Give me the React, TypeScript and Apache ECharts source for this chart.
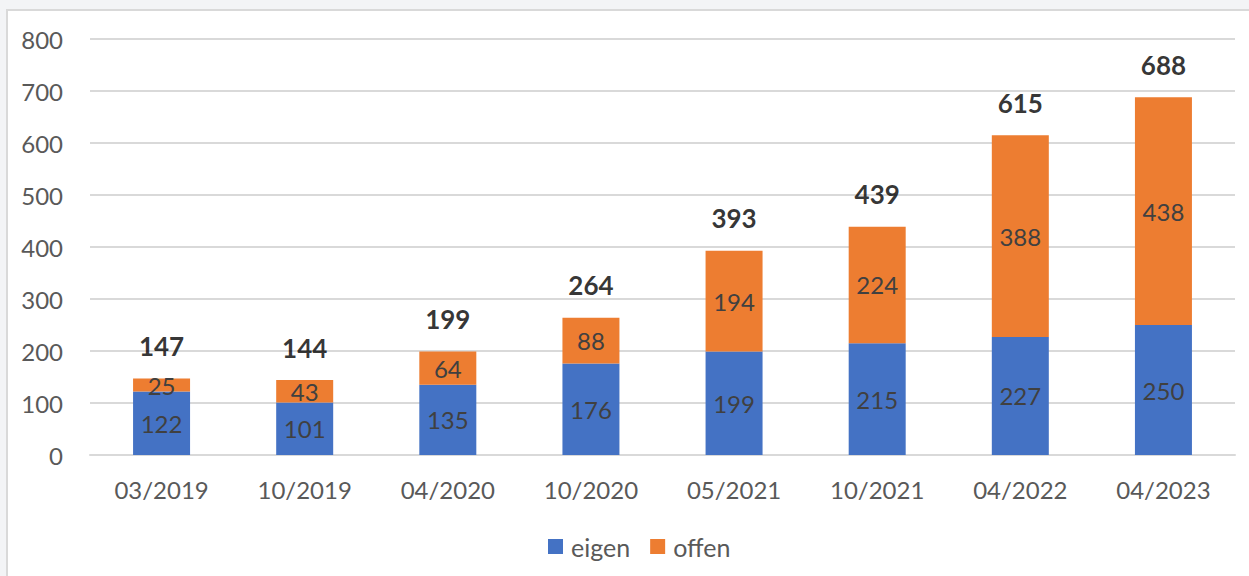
import React, { useEffect, useRef } from "react";
import * as echarts from "echarts";

const categories = ["03/2019", "10/2019", "04/2020", "10/2020", "05/2021", "10/2021", "04/2022", "04/2023"];
const eigen = [122, 101, 135, 176, 199, 215, 227, 250];
const offen = [25, 43, 64, 88, 194, 224, 388, 438];
const totals = [147, 144, 199, 264, 393, 439, 615, 688];
const yTicks = { min: 0, max: 800, interval: 100 };

const FONT = "Lato";

export default function App() {
  const ref = useRef<HTMLDivElement>(null);
  useEffect(() => {
    if (!ref.current) return;
    const chart = echarts.init(ref.current, null, { renderer: "svg" });
    chart.setOption({
      animation: false,
      textStyle: { fontFamily: FONT },
      grid: { left: 90, right: 14, top: 39, bottom: 121, containLabel: false },
      legend: {
        data: ["eigen", "offen"],
        left: 543,
        top: 529,
        icon: "rect",
        itemWidth: 15,
        itemHeight: 15,
        itemGap: 20,
        textStyle: { fontSize: 25, color: "#595959", fontFamily: FONT, padding: [0, 0, 0, 3] },
      },
      xAxis: {
        type: "category",
        data: categories,
        axisLine: { show: true, lineStyle: { color: "#d9d9d9", width: 2 } },
        axisTick: { show: false },
        axisLabel: { fontSize: 24, color: "#595959", margin: 22, fontFamily: FONT },
      },
      yAxis: {
        type: "value",
        min: yTicks.min,
        max: yTicks.max,
        interval: yTicks.interval,
        axisLine: { show: false },
        axisTick: { show: false },
        splitLine: { lineStyle: { color: "#d9d9d9", width: 2 } },
        axisLabel: { fontSize: 24, color: "#595959", margin: 27, fontFamily: FONT },
      },
      series: [
        {
          name: "eigen",
          type: "bar",
          stack: "s",
          barWidth: 57,
          data: eigen,
          itemStyle: { color: "#4472C4" },
          label: { show: true, position: "inside", fontSize: 24, color: "#404040", fontFamily: FONT },
        },
        {
          name: "offen",
          type: "bar",
          stack: "s",
          barWidth: 57,
          data: offen,
          itemStyle: { color: "#ED7D31" },
          label: { show: true, position: "inside", fontSize: 24, color: "#404040", fontFamily: FONT },
        },
        {
          name: "Summe",
          type: "scatter",
          data: totals,
          symbolSize: 1,
          itemStyle: { color: "transparent" },
          label: {
            show: true,
            position: "top",
            distance: 19,
            fontSize: 26,
            fontWeight: "bold",
            color: "#000000",
            fontFamily: FONT,
          },
          silent: true,
        },
      ],
    });
    return () => chart.dispose();
  }, []);

  return (
    <div style={{ position: "fixed", left: 0, top: 0, width: 1249, height: 576, background: "#f3f4f6", overflow: "hidden" }}>
      <div
        style={{
          position: "absolute",
          left: 6,
          top: 9,
          width: 1260,
          height: 600,
          background: "#ffffff",
          border: "2px solid #d9d9d9",
        }}
      />
      <div ref={ref} style={{ position: "absolute", left: 0, top: 0, width: 1249, height: 576 }} />
    </div>
  );
}
